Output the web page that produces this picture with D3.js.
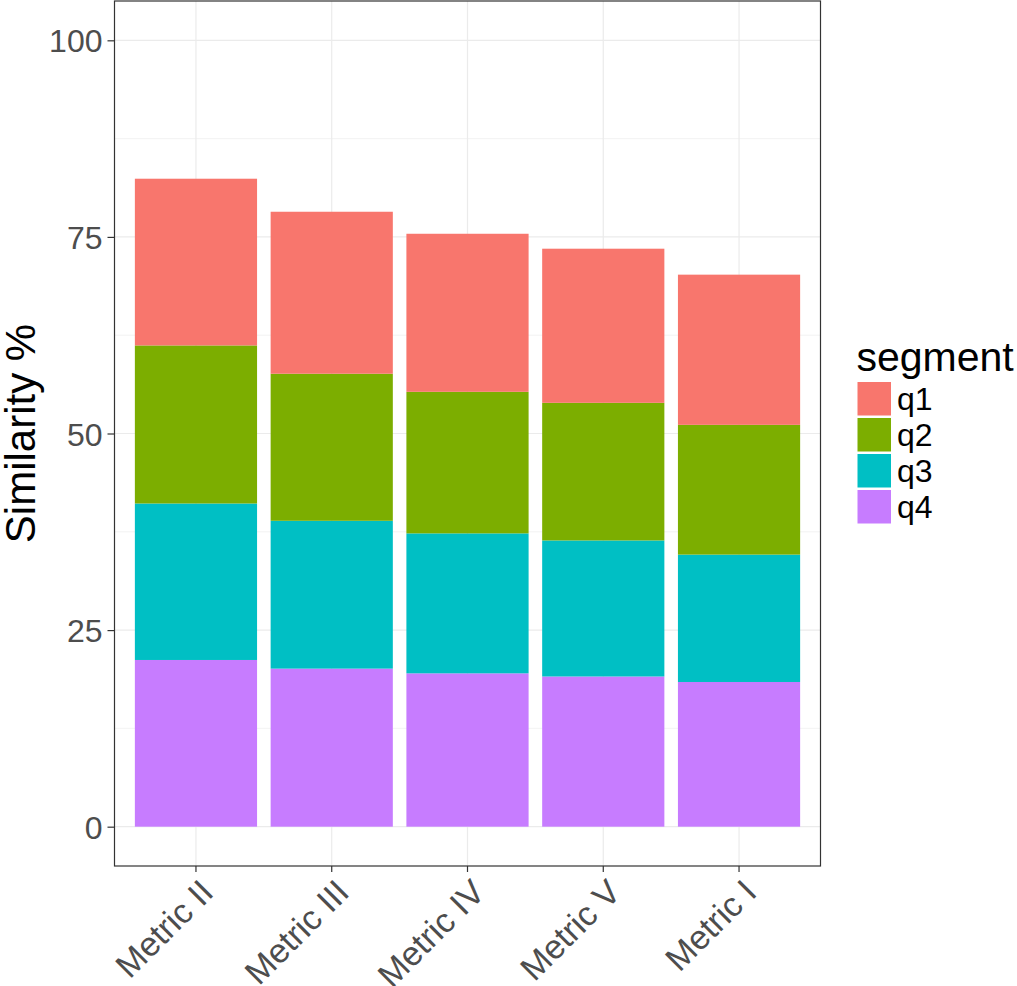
<!DOCTYPE html>
<html>
<head>
<meta charset="utf-8">
<script src="https://cdn.jsdelivr.net/npm/d3@7"></script>
<style>
  body { margin: 0; background: #fff; }
  text { font-family: "Liberation Sans", Arial, Helvetica, sans-serif; }
</style>
</head>
<body>
<div id="chart"></div>
<script>
const width = 1017, height = 986;

// data
const metrics = ["Metric II", "Metric III", "Metric IV", "Metric V", "Metric I"];
const segments = ["q1", "q2", "q3", "q4"];
const q1 = [21.2, 20.6, 20.1, 19.6, 19.1];
const q2 = [20.1, 18.7, 18.0, 17.5, 16.5];
const q3 = [19.9, 18.8, 17.8, 17.3, 16.2];
const q4 = [21.2, 20.1, 19.5, 19.1, 18.4];
const yTicks = [0, 25, 50, 75, 100];
const yMinor = [12.5, 37.5, 62.5, 87.5];
const colors = ["#F8766D", "#7CAE00", "#00BFC4", "#C77CFF"];

const rows = metrics.map((m, i) => ({metric: m, q1: q1[i], q2: q2[i], q3: q3[i], q4: q4[i]}));

const panel = {left: 114.5, right: 820.5, top: 1, bottom: 866};

const svg = d3.select("#chart").append("svg")
    .attr("width", width).attr("height", height);

// ggplot-like discrete expansion: 0.6 of a step on each side
const x = d3.scaleBand()
    .domain(metrics)
    .range([panel.left, panel.right])
    .paddingInner(0.1)
    .paddingOuter(0.15);

const y = d3.scaleLinear()
    .domain([-5, 105])
    .range([panel.bottom, panel.top]);

const color = d3.scaleOrdinal().domain(segments).range(colors);

// stack q4 at the bottom, q1 on top
const stack = d3.stack().keys(segments.slice().reverse());
const series = stack(rows);

// grid
const grid = svg.append("g");
grid.selectAll(".minor").data(yMinor).join("line")
    .attr("x1", panel.left).attr("x2", panel.right)
    .attr("y1", d => y(d)).attr("y2", d => y(d))
    .attr("stroke", "#ebebeb").attr("stroke-width", 0.6);
grid.selectAll(".major").data(yTicks).join("line")
    .attr("x1", panel.left).attr("x2", panel.right)
    .attr("y1", d => y(d)).attr("y2", d => y(d))
    .attr("stroke", "#ebebeb").attr("stroke-width", 1.2);
grid.selectAll(".vmajor").data(metrics).join("line")
    .attr("x1", d => x(d) + x.bandwidth() / 2).attr("x2", d => x(d) + x.bandwidth() / 2)
    .attr("y1", panel.top).attr("y2", panel.bottom)
    .attr("stroke", "#ebebeb").attr("stroke-width", 1.2);

// bars
svg.append("g").selectAll("g")
    .data(series)
    .join("g")
    .attr("fill", d => color(d.key))
    .selectAll("rect")
    .data(d => d)
    .join("rect")
    .attr("x", d => x(d.data.metric))
    .attr("width", x.bandwidth())
    .attr("y", d => y(d[1]))
    .attr("height", d => y(d[0]) - y(d[1]));

// panel border
svg.append("rect")
    .attr("x", panel.left).attr("y", panel.top)
    .attr("width", panel.right - panel.left)
    .attr("height", panel.bottom - panel.top)
    .attr("fill", "none").attr("stroke", "#333").attr("stroke-width", 1.2);

// y axis
const yAxis = svg.append("g")
    .attr("transform", `translate(${panel.left},0)`)
    .call(d3.axisLeft(y).tickValues(yTicks).tickSize(7).tickPadding(5));
yAxis.select(".domain").remove();
yAxis.selectAll(".tick line").attr("stroke", "#333").attr("stroke-width", 1.2);
yAxis.selectAll(".tick text")
    .attr("fill", "#4d4d4d")
    .style("font-size", "32px")
    .attr("dy", "0.36em");

// x axis
const xAxis = svg.append("g")
    .attr("transform", `translate(0,${panel.bottom})`)
    .call(d3.axisBottom(x).tickSize(6).tickSizeOuter(0));
xAxis.select(".domain").remove();
xAxis.selectAll(".tick line").attr("stroke", "#333").attr("stroke-width", 1.2);
xAxis.selectAll(".tick text")
    .attr("fill", "#4d4d4d")
    .style("font-size", "34px")
    .attr("text-anchor", "end")
    .attr("y", 0)
    .attr("dy", "0.72em")
    .attr("transform", "translate(2,11) rotate(-45)");

// y title
svg.append("text")
    .attr("transform", `translate(35,${(panel.top + panel.bottom) / 2}) rotate(-90)`)
    .attr("text-anchor", "middle")
    .style("font-size", "42px")
    .attr("fill", "#000")
    .text("Similarity %");

// legend
const legend = svg.append("g").attr("transform", "translate(857.5,371)");
legend.append("text")
    .style("font-size", "41px")
    .attr("x", -1)
    .text("segment");
const key = legend.selectAll(".key").data(segments).join("g")
    .attr("transform", (d, i) => `translate(0,${11 + i * 36})`);
key.append("rect")
    .attr("width", 33.5).attr("height", 33.5)
    .attr("fill", d => color(d));
key.append("text")
    .attr("x", 39.5).attr("y", 16.75).attr("dy", "0.36em")
    .style("font-size", "32px")
    .text(d => d);
</script>
</body>
</html>
